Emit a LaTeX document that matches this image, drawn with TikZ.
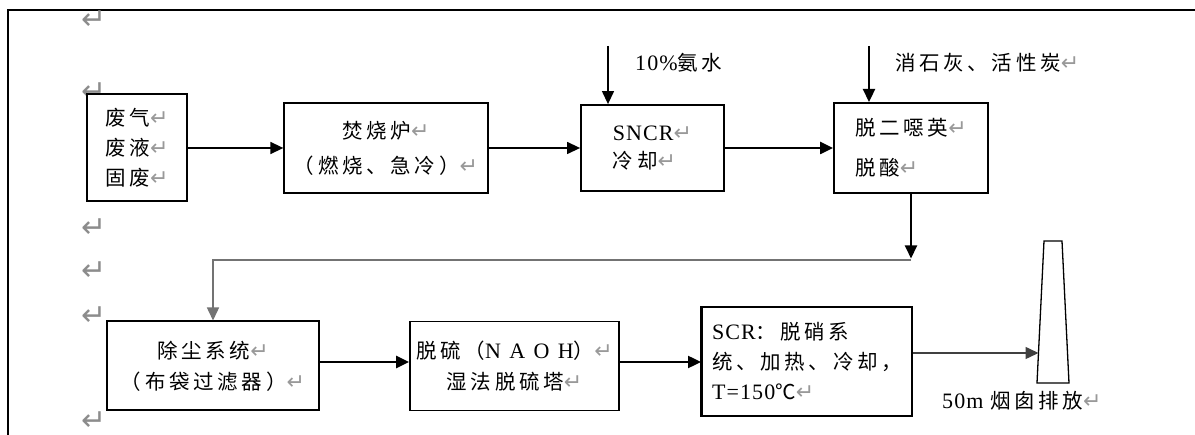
\documentclass[tikz,border=0pt]{standalone}
\usepackage{fontspec}
\setmainfont{Liberation Serif}[LetterSpace=5]
\newfontfamily\cjk{Noto Sans CJK SC}[LetterSpace=18]
\newfontfamily\widelat{Liberation Serif}[LetterSpace=38]
\newfontfamily\symf{DejaVu Sans}
\usetikzlibrary{arrows.meta}
\newcommand\zh[1]{{\fontsize{20.5}{20.5}\cjk #1}}
\newcommand\rt{{\color{black!40}\fontsize{22}{22}\symf ↵}}
\newcommand\rtbig{{\color{black!45}\fontsize{30}{30}\symf ↵}}
\tikzset{
  box/.style={draw, line width=1.6pt, inner sep=0pt, fill=white, font=\fontsize{22}{30}\selectfont},
  arr/.style={-{Triangle[length=13pt,width=12pt]}},
  lbl/.style={inner sep=0pt, anchor=west, font=\fontsize{22}{30}\selectfont},
  pmark/.style={inner sep=0pt, anchor=west, text depth=0pt}
}
\begin{document}
\begin{tikzpicture}[x=1pt,y=-1pt]
\useasboundingbox (0,0) rectangle (1195,435);
% frame
\draw[line width=2pt] (8,435) -- (8,10.5) -- (1195,10.5);
% paragraph marks in margin
\node[pmark] (m1) at (81,20) {\rtbig};
\node[pmark] (m2) at (81,92) {\rtbig};
\node[pmark] (m3) at (81,228) {\rtbig};
\node[pmark] (m4) at (81,271) {\rtbig};
\node[pmark] (m5) at (81,316) {\rtbig};
\node[pmark] (m6) at (81,421) {\rtbig};
% boxes row 1
\node[box, line width=2pt, minimum width=100pt, minimum height=107pt, align=center] (b1) at (137,148)
  {\zh{废气}\rt\\\zh{废液}\rt\\\zh{固废}\rt};
\node[box, line width=1.3pt, minimum width=204pt, minimum height=90pt, align=center,
  font=\fontsize{22}{35}\selectfont] (b2) at (386,148)
  {\zh{焚烧炉}\rt\\\zh{（燃烧、急冷）}\rt};
\node[box, line width=1.8pt, minimum width=143pt, minimum height=86pt, align=left,
  font=\fontsize{22}{28}\selectfont] (b3) at (652.5,148)
  {SNCR\rt\\\zh{冷却}\rt};
\node[box, line width=2pt, minimum width=154pt, minimum height=90pt, align=left,
  font=\fontsize{22}{40}\selectfont] (b4) at (911,148)
  {\zh{脱二噁英}\rt\\\zh{脱酸}\rt};
% boxes row 2
\node[box, line width=2pt, minimum width=212pt, minimum height=89pt, align=center,
  font=\fontsize{22}{31}\selectfont] (b5) at (213,366)
  {\zh{除尘系统}\rt\\\zh{（布袋过滤器）}\rt};
\node[box, line width=1.8pt, minimum width=209pt, minimum height=89pt, align=center,
  font=\fontsize{22}{31}\selectfont] (b6) at (514.5,366)
  {\zh{脱硫（}{\widelat NAOH}\zh{）}\rt\\\zh{湿法脱硫塔}\rt};
\node[box, line width=1.8pt, minimum width=210pt, minimum height=109pt, align=left,
  font=\fontsize{22}{30}\selectfont] (b7) at (807,361.5)
  {SCR\zh{：脱硝系}\\\zh{统、加热、冷却，}\\T=150\zh{℃}\rt};
\draw[line width=3pt] (b7.north west) -- (b7.south west);
% feed labels
\node[lbl] (l1) at (635,63) {10\%\zh{氨水}};
\node[lbl] (l2) at (895,63) {\zh{消石灰、活性炭}\rt};
\coordinate (f1) at (608,46);
\coordinate (f2) at (869,46);
% chimney
\coordinate (ch) at (1038.5,353);
\draw[line width=1.3pt, fill=white] (1037,383) -- (1044,241) -- (1062,241) -- (1069,383) -- cycle;
\node[lbl] (l3) at (942,401) {50m \zh{烟囱排放}\rt};
% connectors row 1
\draw[arr, line width=1.5pt] (b1.east) -- (b2.west);
\draw[arr, line width=1.3pt] (b2.east) -- (b3.west);
\draw[arr, line width=2.5pt] (b3.east) -- (b4.west);
\draw[arr, line width=1.3pt] (f1) -- (f1 |- b3.north);
\draw[arr, line width=2.3pt] (f2) -- (f2 |- b4.north);
% return line
\coordinate (j) at (911,260);
\draw[arr, line width=1.5pt, black!55] (j) -- (j -| b5.north) -- (b5.north);
\draw[arr, line width=2pt] (b4.south) -- ([yshift=1.5pt]j);
% connectors row 2
\draw[arr, line width=2.5pt] ([yshift=4pt]b5.east) -- ([yshift=4pt]b6.west);
\draw[arr, line width=2pt] ([yshift=4pt]b6.east) -- ([yshift=4pt]b6.east -| b7.west);
\draw[arr, line width=1.5pt, black!75] (b7.east |- ch) -- (ch);
\end{tikzpicture}
\end{document}
